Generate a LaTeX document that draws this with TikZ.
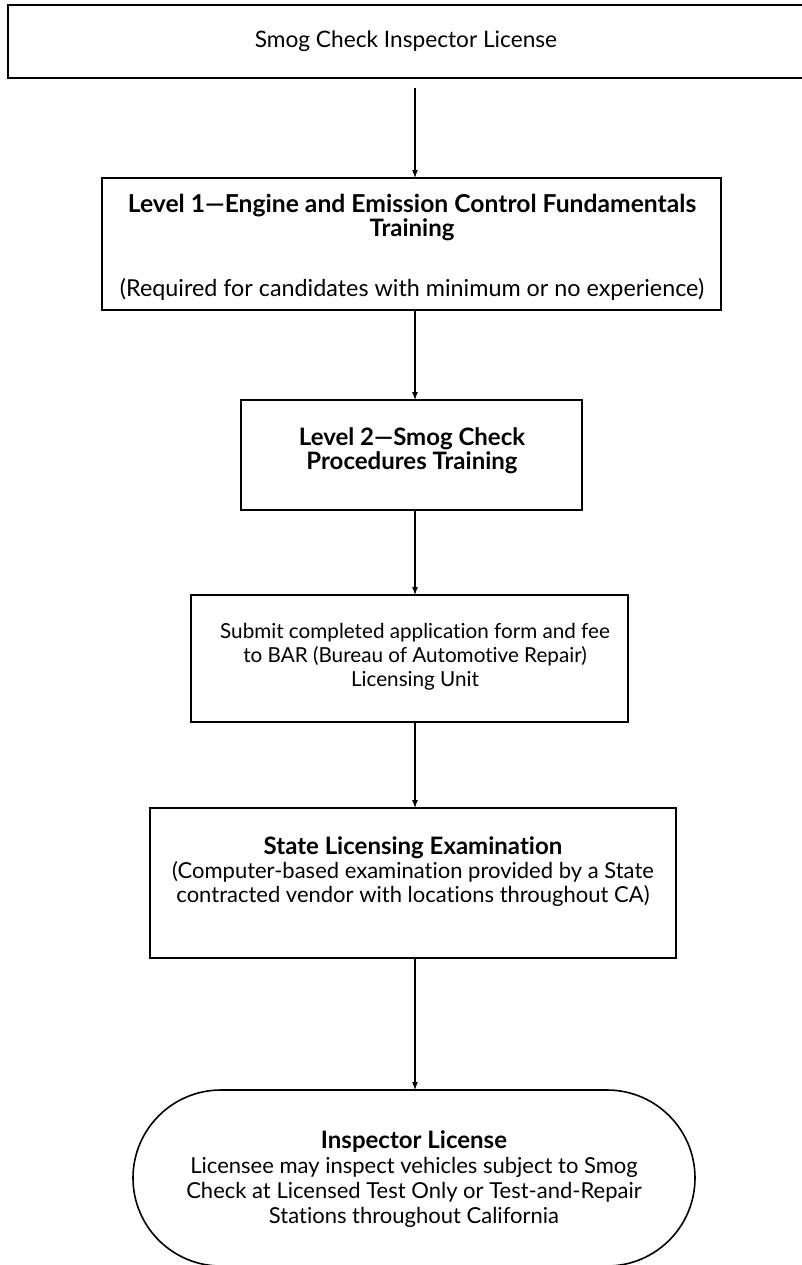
\documentclass[tikz,border=0pt]{standalone}
\usepackage{fontspec}
\setmainfont[Ligatures=NoCommon]{Lato}
\usetikzlibrary{arrows.meta}
\newcommand{\bt}[1]{{\fontsize{18}{18}\selectfont\bfseries #1}}
\begin{document}
\begin{tikzpicture}[x=0.75pt,y=-0.75pt,
  box/.style={draw, line width=1.5pt, rectangle, inner sep=0pt, outer sep=0pt},
  final/.style={draw, line width=1.2pt, rectangle, rounded corners=66pt, inner sep=0pt, outer sep=0pt},
  txt/.style={align=center, inner sep=0pt, font=\fontsize{16.5}{18}\selectfont},
  arr/.style={-{Latex[length=6pt,width=4.5pt]}, line width=0.8pt}
]
\clip (0,0) rectangle (802,1265);
\useasboundingbox (0,0) rectangle (802,1265);

% boxes
\node[box, minimum width=603pt, minimum height=54.75pt] (top) at (410,41.5) {};
\node[box, minimum width=464.25pt, minimum height=99pt] (l1) at (411.5,244) {};
\node[box, minimum width=255.75pt, minimum height=82.5pt] (l2) at (411.5,455) {};
\node[box, minimum width=327.75pt, minimum height=95.25pt] (b4) at (409.5,658.5) {};
\node[box, minimum width=394.5pt, minimum height=112.5pt] (b5) at (413,883) {};
\node[final, minimum width=421.5pt, minimum height=132pt] (fin) at (414,1178) {};

% texts
\node[txt, font=\fontsize{17}{18}\selectfont] (topt) at (406,41) {Smog Check Inspector License};
\node[txt, font=\fontsize{17.5}{18}\selectfont] (l1t) at (412,247)
  {{\fontsize{18.5}{18}\selectfont\bfseries Level 1—Engine and Emission Control Fundamentals}\\
   \bt{Training}\\[27pt]
   (Required for candidates with minimum or no experience)};
\node[txt] (l2t) at (412,451) {\bt{Level 2—Smog Check}\\ \bt{Procedures Training}};
\node[txt, font=\fontsize{15.5}{18}\selectfont] (b4t) at (415,657)
  {Submit completed application form and fee\\
   to BAR (Bureau of Automotive Repair)\\
   Licensing Unit};
\node[txt] (b5t) at (413,872)
  {\bt{State Licensing Examination}\\
   (Computer-based examination provided by a State\\
   contracted vendor with locations throughout CA)};
\node[txt, font=\fontsize{16.5}{18.75}\selectfont] (fint) at (414,1179)
  {\bt{Inspector License}\\
   Licensee may inspect vehicles subject to Smog\\
   Check at Licensed Test Only or Test-and-Repair\\
   Stations throughout California};

% connectors
\coordinate (ax) at (415,0);
\draw[arr] (ax |- top.south) ++(0,10) -- (ax |- l1.north);
\draw[arr] (ax |- l1.south) -- (ax |- l2.north);
\draw[arr] (ax |- l2.south) -- (ax |- b4.north);
\draw[arr] (ax |- b4.south) -- (ax |- b5.north);
\draw[arr] (ax |- b5.south) -- (ax |- fin.north);
\end{tikzpicture}
\end{document}
